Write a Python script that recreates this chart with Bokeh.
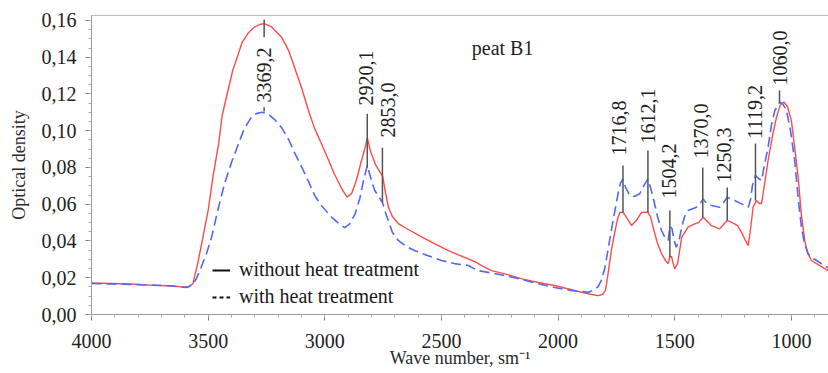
from math import pi
from bokeh.plotting import figure
from bokeh.models import Range1d, FixedTicker, LinearAxis, Legend, LegendItem, Label
from bokeh.core.properties import value
from bokeh.embed import file_html
from bokeh.resources import INLINE

# ---- data ----
wn_red = [4000, 3915, 3830, 3745, 3655, 3605, 3585, 3565, 3545, 3525, 3500, 3480, 3455, 3440,
          3415, 3395, 3370, 3355, 3330, 3305, 3280, 3260, 3230, 3185, 3155, 3130, 3100, 3070,
          3045, 3015, 2985, 2960, 2930, 2905, 2885, 2865, 2845, 2825, 2818, 2805, 2783, 2762,
          2752, 2740, 2727, 2710, 2685, 2650, 2585, 2530, 2470, 2430, 2385, 2350, 2330, 2285,
          2220, 2155, 2085, 2015, 1955, 1900, 1855, 1830, 1810, 1797, 1787, 1772, 1758, 1745,
          1735, 1722, 1707, 1685, 1665, 1643, 1615, 1604, 1593, 1575, 1557, 1540, 1528, 1521,
          1514, 1508, 1500, 1488, 1470, 1443, 1415, 1398, 1378, 1360, 1343, 1307, 1291, 1275,
          1257, 1231, 1214, 1197, 1185, 1176, 1164, 1150, 1137, 1128, 1116, 1100, 1081, 1064,
          1047, 1032, 1017, 1000, 987, 971, 957, 943, 931, 914, 880, 843]
od_red = [0.0171, 0.0169, 0.0166, 0.0160, 0.0155, 0.0150, 0.0150, 0.0169, 0.0277, 0.0403, 0.0566,
          0.0745, 0.0930, 0.1083, 0.1219, 0.1327, 0.1420, 0.1480, 0.1529, 0.1561, 0.1578, 0.1583,
          0.1567, 0.1509, 0.1436, 0.1345, 0.1235, 0.1110, 0.1017, 0.0930, 0.0843, 0.0767, 0.0691,
          0.0639, 0.0658, 0.0729, 0.0827, 0.0919, 0.0963, 0.0892, 0.0816, 0.0772, 0.0751, 0.0664,
          0.0582, 0.0533, 0.0495, 0.0468, 0.0422, 0.0386, 0.0348, 0.0326, 0.0303, 0.0283, 0.0267,
          0.0239, 0.0218, 0.0194, 0.0174, 0.0158, 0.0139, 0.0121, 0.0109, 0.0103, 0.0109, 0.0131,
          0.0212, 0.0348, 0.0441, 0.0522, 0.0555, 0.0557, 0.0528, 0.0484, 0.0511, 0.0555, 0.0557,
          0.0533, 0.0475, 0.0392, 0.0332, 0.0294, 0.0277, 0.0316, 0.0316, 0.0283, 0.0249, 0.0277,
          0.0421, 0.0475, 0.0493, 0.0500, 0.0529, 0.0506, 0.0484, 0.0466, 0.0490, 0.0511, 0.0503,
          0.0484, 0.0448, 0.0403, 0.0375, 0.0457, 0.0584, 0.0620, 0.0604, 0.0604, 0.0702, 0.0838,
          0.0974, 0.1073, 0.1142, 0.1156, 0.1132, 0.1055, 0.0919, 0.0747, 0.0539, 0.0403, 0.0337,
          0.0294, 0.0267, 0.0239]

wn_blue = [4000, 3915, 3830, 3745, 3655, 3595, 3570, 3550, 3530, 3507, 3485, 3460, 3430, 3400,
           3370, 3345, 3315, 3293, 3270, 3245, 3215, 3185, 3155, 3130, 3100, 3070, 3043, 3015,
           2970, 2940, 2915, 2895, 2870, 2850, 2834, 2818, 2800, 2786, 2766, 2753, 2740, 2728,
           2710, 2685, 2650, 2615, 2560, 2500, 2445, 2385, 2345, 2285, 2230, 2155, 2085, 2015,
           1945, 1900, 1870, 1850, 1830, 1815, 1800, 1785, 1772, 1758, 1743, 1733, 1722, 1712,
           1693, 1673, 1650, 1635, 1615, 1604, 1593, 1575, 1557, 1540, 1528, 1521, 1512, 1503,
           1493, 1480, 1470, 1458, 1443, 1407, 1394, 1378, 1364, 1343, 1307, 1291, 1275, 1257,
           1243, 1214, 1185, 1176, 1167, 1154, 1141, 1128, 1116, 1100, 1086, 1071, 1050, 1038,
           1021, 1004, 986, 970, 957, 944, 928, 906, 871, 837]
od_blue = [0.0169, 0.0166, 0.0163, 0.0160, 0.0155, 0.0147, 0.0158, 0.0196, 0.0257, 0.0332, 0.0421,
           0.0560, 0.0711, 0.0827, 0.0929, 0.1012, 0.1073, 0.1093, 0.1101, 0.1093, 0.1061, 0.1017,
           0.0952, 0.0881, 0.0805, 0.0724, 0.0647, 0.0593, 0.0529, 0.0495, 0.0473, 0.0490, 0.0548,
           0.0631, 0.0729, 0.0811, 0.0729, 0.0675, 0.0636, 0.0611, 0.0555, 0.0511, 0.0446, 0.0403,
           0.0370, 0.0348, 0.0321, 0.0294, 0.0277, 0.0267, 0.0239, 0.0226, 0.0212, 0.0190, 0.0167,
           0.0147, 0.0131, 0.0125, 0.0121, 0.0131, 0.0149, 0.0185, 0.0250, 0.0359, 0.0457, 0.0555,
           0.0657, 0.0713, 0.0738, 0.0696, 0.0647, 0.0642, 0.0657, 0.0696, 0.0738, 0.0691, 0.0638,
           0.0539, 0.0457, 0.0413, 0.0403, 0.0479, 0.0468, 0.0403, 0.0366, 0.0413, 0.0475, 0.0533,
           0.0566, 0.0584, 0.0598, 0.0629, 0.0604, 0.0593, 0.0584, 0.0609, 0.0638, 0.0626, 0.0620,
           0.0602, 0.0584, 0.0620, 0.0702, 0.0756, 0.0740, 0.0729, 0.0811, 0.0910, 0.1028, 0.1110,
           0.1155, 0.1148, 0.1110, 0.1001, 0.0838, 0.0620, 0.0475, 0.0386, 0.0330, 0.0305, 0.0276,
           0.0250]

peak_labels = ["3369,2", "2920,1", "2853,0", "1716,8", "1612,1", "1504,2",
               "1370,0", "1250,3", "1119,2", "1060,0"]
peak_line_x = [3260, 2818, 2753, 1722, 1615, 1521, 1380, 1275, 1154, 1051, 3260]
peak_line_lo = [0.1509, 0.0800, 0.0609, 0.0557, 0.0557, 0.0310, 0.0528, 0.0511, 0.0620, 0.1148, 0.1104]
peak_line_hi = [0.1605, 0.1093, 0.0908, 0.0811, 0.0892, 0.0566, 0.0800, 0.0691, 0.0930, 0.1219, 0.1128]
label_x = [3260, 2822, 2727, 1741, 1614, 1523, 1386, 1287, 1158, 1051]
label_y = [0.1153, 0.1137, 0.0963, 0.0865, 0.0930, 0.0631, 0.0849, 0.0718, 0.0957, 0.1246]

x_ticks = [4000, 3500, 3000, 2500, 2000, 1500, 1000]
x_minor = list(range(900, 4001, 100))
y_ticks = [0.0, 0.02, 0.04, 0.06, 0.08, 0.10, 0.12, 0.14, 0.16]
y_tick_labels = ["0,00", "0,02", "0,04", "0,06", "0,08", "0,10", "0,12", "0,14", "0,16"]
y_minor = [i * 0.005 for i in range(0, 33)]

series_names = ["without heat treatment", "with heat treatment"]
title_text = "peat B1"

FONT = "Liberation Serif"

p = figure(width=828, height=373, x_range=Range1d(4000, 841), y_range=Range1d(0, 0.1627),
           output_backend="svg", toolbar_location=None,
           min_border_left=91, min_border_top=15, min_border_bottom=59, min_border_right=0)
p.outline_line_color = None
p.xgrid.visible = False
p.ygrid.visible = False
p.background_fill_color = "white"

# axes
for ax in (p.xaxis[0], p.yaxis[0]):
    ax.axis_line_color = "#9a9a9a"
    ax.major_tick_line_color = "#7a7a7a"
    ax.minor_tick_line_color = "#aaaaaa"
    ax.major_tick_in = 0
    ax.major_tick_out = 6
    ax.minor_tick_in = 0
    ax.minor_tick_out = 3
    ax.major_label_text_font = FONT
    ax.major_label_text_font_size = "20px"
    ax.major_label_text_color = "#222222"
    ax.axis_label_text_font = FONT
    ax.axis_label_text_font_size = "18px"
    ax.axis_label_text_font_style = "normal"
    ax.axis_label_text_color = "#2a2a2a"

p.xaxis.ticker = FixedTicker(ticks=x_ticks, minor_ticks=x_minor)
p.xaxis.axis_label = "Wave number, sm\u207b\u00b9"
p.xaxis.major_label_standoff = 13
p.xaxis.axis_label_standoff = -3

p.yaxis.ticker = FixedTicker(ticks=y_ticks, minor_ticks=y_minor)
p.yaxis.major_label_overrides = dict(zip(y_ticks, y_tick_labels))
p.yaxis.axis_label = "Optical density"
p.yaxis.major_label_standoff = 9
p.yaxis.axis_label_standoff = 10

top = LinearAxis(ticker=FixedTicker(ticks=[]), axis_line_color="#bbbbbb",
                 major_tick_in=0, major_tick_out=0, minor_tick_in=0, minor_tick_out=0,
                 major_label_text_font_size="0px", major_label_standoff=0)
p.add_layout(top, "above")

# curves
p.line(wn_red, od_red, line_color="#ff4a4a", line_width=1.4)
p.line(wn_blue, od_blue, line_color="#5468f0", line_width=1.6, line_dash="10 5")

# peak markers
p.segment(x0=peak_line_x, y0=peak_line_lo, x1=peak_line_x, y1=peak_line_hi,
          line_color="#555555", line_width=1.5)
p.text(x=label_x, y=label_y, text=peak_labels, angle=pi / 2,
       text_align="left", text_baseline="middle",
       text_font=value(FONT), text_font_size="20px", text_color="#222222")

p.add_layout(Label(x=2370, y=0.1452, text=title_text, text_font=FONT,
                   text_font_size="20px", text_color="#222222", text_baseline="middle"))

# legend (black sample lines; sample renderers carry no visible data)
nan = float("nan")
r1 = p.line(x=[nan, nan], y=[nan, nan], line_color="#111111", line_width=2)
r2 = p.line(x=[nan, nan], y=[nan, nan], line_color="#111111", line_width=2, line_dash="4 3")
legend = Legend(items=[LegendItem(label=series_names[0], renderers=[r1]),
                       LegendItem(label=series_names[1], renderers=[r2])],
                location=(121, 6), margin=0, padding=4, spacing=4,
                glyph_width=18, glyph_height=22, label_height=22, label_standoff=9,
                label_text_font=FONT, label_text_font_size="20px", label_text_color="#1a1a1a",
                background_fill_alpha=0, border_line_color=None)
p.add_layout(legend, "center")

open("out.html", "w").write(file_html(p, INLINE))
